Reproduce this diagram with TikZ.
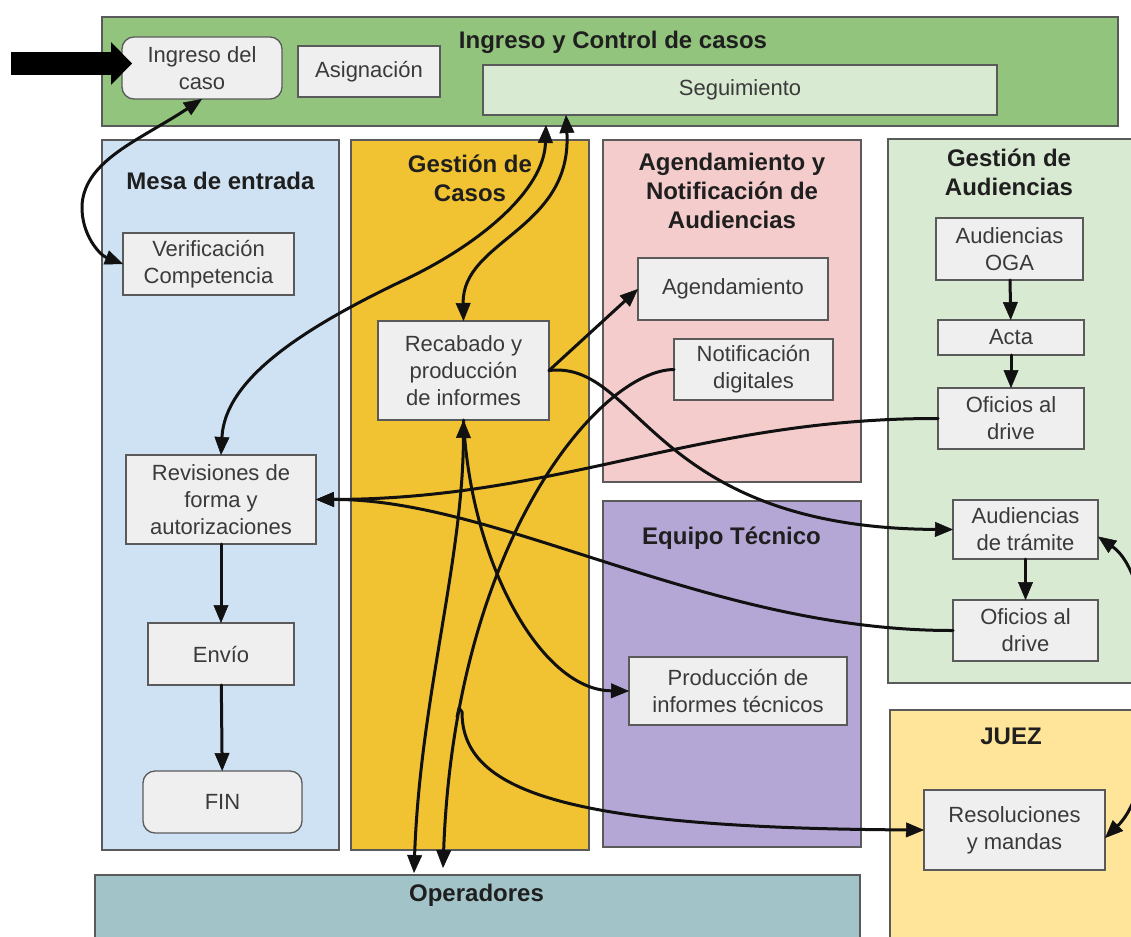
\documentclass[tikz,border=0pt]{standalone}
\usepackage{fontspec}
\setmainfont{Liberation Sans}
\usetikzlibrary{arrows.meta}

\definecolor{bandgreen}{HTML}{93C47D}
\definecolor{palegreen}{HTML}{D9EAD3}
\definecolor{paleblue}{HTML}{CFE2F3}
\definecolor{gold}{HTML}{F1C232}
\definecolor{rose}{HTML}{F4CCCC}
\definecolor{lavender}{HTML}{B4A7D6}
\definecolor{cream}{HTML}{FFE599}
\definecolor{slateteal}{HTML}{A2C4C9}
\definecolor{boxgray}{HTML}{EFEFEF}
\definecolor{edgegray}{HTML}{5A5A5A}
\definecolor{inkgray}{HTML}{3A3A3A}
\definecolor{ink}{HTML}{111111}

\tikzset{
  lane/.style={draw=edgegray, line width=1.4pt, inner sep=0pt, outer sep=0pt, anchor=north west},
  ttl/.style={font=\bfseries\fontsize{24}{29}\selectfont, text=black!88, align=center, inner sep=0pt},
  box/.style={draw=edgegray, line width=1.3pt, fill=boxgray, inner sep=2pt, outer sep=0pt,
              align=center, text=inkgray, font=\fontsize{22}{27}\selectfont},
  roundbox/.style={box, rounded corners=12pt},
  conn/.style={draw=ink, line width=3pt, line cap=round},
  arr/.style={conn, -{Triangle[length=18pt,width=15pt,line width=0.5pt]}},
  biarr/.style={conn, {Triangle[length=18pt,width=15pt,line width=0.5pt]}-{Triangle[length=18pt,width=15pt,line width=0.5pt]}},
}

\begin{document}
\begin{tikzpicture}[x=1pt,y=-1pt]
\useasboundingbox (0,0) rectangle (1131,936);
\clip (0,0) rectangle (1131,936);
\fill[white] (0,0) rectangle (1131,936);

% ---------- swimlanes ----------
\node[lane, fill=bandgreen, minimum width=1016pt, minimum height=109pt] (laneIngreso) at (102,17) {};
\node[lane, fill=paleblue,  minimum width=237pt,  minimum height=710pt] (laneMesa) at (102,140) {};
\node[lane, fill=gold,      minimum width=238pt,  minimum height=710pt] (laneCasos) at (351,140) {};
\node[lane, fill=rose,      minimum width=258pt,  minimum height=342pt] (laneAgenda) at (603,140) {};
\node[lane, fill=lavender,  minimum width=258pt,  minimum height=346pt] (laneTecnico) at (603,501) {};
\node[lane, fill=palegreen, minimum width=260pt,  minimum height=544pt] (laneAudiencias) at (888,139) {};
\node[lane, fill=cream,     minimum width=260pt,  minimum height=250pt] (laneJuez) at (890,710) {};
\node[lane, fill=slateteal, minimum width=765pt,  minimum height=90pt]  (laneOper) at (95,875) {};

% ---------- lane titles ----------
\node[ttl] (tIngreso) at (613,42) {Ingreso y Control de casos};
\node[ttl] (tMesa) at (220.5,181) {Mesa de entrada};
\node[ttl] (tCasos) at (470,178.5) {Gestión de\\Casos};
\node[ttl] (tAgenda) at (732,190.5) {Agendamiento y\\Notificación de\\Audiencias};
\node[ttl] (tTecnico) at (731.5,538) {Equipo Técnico};
\node[ttl] (tAudiencias) at (1009,172) {Gestión de\\Audiencias};
\node[ttl] (tJuez) at (1011,736) {JUEZ};
\node[ttl] (tOper) at (476.5,895) {Operadores};

% ---------- process boxes ----------
\node[roundbox, minimum width=160pt, minimum height=62pt] (ingreso) at (202,68) {Ingreso del\\caso};
\node[box, minimum width=142pt, minimum height=51pt] (asign) at (369,71.5) {Asignación};
\node[box, fill=palegreen, minimum width=514pt, minimum height=50pt] (seguim) at (740,90) {Seguimiento};

\node[box, minimum width=171pt, minimum height=62pt] (verif) at (208.5,264) {Verificación\\Competencia};
\node[box, minimum width=190pt, minimum height=89pt] (revis) at (221,499.5) {Revisiones de\\forma y\\autorizaciones};
\node[box, minimum width=146pt, minimum height=62pt] (envio) at (221,654) {Envío};
\node[roundbox, minimum width=159pt, minimum height=62pt] (fin) at (222.5,802) {FIN};

\node[box, minimum width=171pt, minimum height=99pt] (recab) at (463.5,370.5) {Recabado y\\producción\\de informes};

\node[box, minimum width=190pt, minimum height=62pt] (agend) at (733,289) {Agendamiento};
\node[box, minimum width=159pt, minimum height=61pt] (notif) at (753.5,369.5) {Notificación\\digitales};

\node[box, minimum width=218pt, minimum height=68pt] (produc) at (738,691) {Producción de\\informes técnicos};

\node[box, minimum width=147pt, minimum height=62pt] (oga) at (1009.5,249) {Audiencias\\OGA};
\node[box, minimum width=146pt, minimum height=35pt] (acta) at (1011,337.5) {Acta};
\node[box, minimum width=146pt, minimum height=61pt] (ofic1) at (1011,418.5) {Oficios al\\drive};
\node[box, minimum width=145pt, minimum height=59pt] (tramite) at (1025.5,529.5) {Audiencias\\de trámite};
\node[box, minimum width=145pt, minimum height=61pt] (ofic2) at (1025.5,630.5) {Oficios al\\drive};

\node[box, minimum width=181pt, minimum height=80pt] (resol) at (1014.5,830) {Resoluciones\\y mandas};

% ---------- entry arrow ----------
\coordinate (entrada) at (11,63.5);
\draw[draw=black, line width=23pt, -{Triangle[length=21pt,width=43pt,line width=0pt]}]
  (entrada) -- ([xshift=10pt,yshift=4.5pt]ingreso.west);

% ---------- straight flows ----------
\draw[arr] (oga) -- (acta);
\draw[arr] (acta) -- (ofic1);
\draw[arr] (tramite) -- (ofic2);
\draw[arr] (revis) -- (envio);
\draw[arr] (envio) -- (fin);
\draw[arr] (recab.east) -- (agend.west);

% ---------- curved flows ----------
% ingreso <-> verificacion
\draw[biarr] (ingreso.south) .. controls (140,140) and (85,160) .. (82,205)
  .. controls (81,235) and (100,255) .. (verif.west);
% seguimiento <-> revisiones
\draw[biarr] ([xshift=-194pt,yshift=-10pt]seguim.south)
  .. controls (544,190) and (480,245) .. (400,282)
  .. controls (300,330) and (225,380) .. (revis.north);
% seguimiento <-> recabado
\draw[biarr] ([xshift=-174pt]seguim.south) .. controls (572,230) and (462,240) .. (recab.north);
% recabado -> audiencias de tramite
\draw[arr] (recab.east) .. controls (640,360) and (650,528) .. (tramite.west);
% notificacion -> operadores
\draw[arr] (notif.west) .. controls (600,370) and (455,540) .. ([xshift=-34.5pt,yshift=7pt]laneOper.north);
% oficios -> revisiones
\draw[arr] (ofic1.west) .. controls (700,418) and (560,499) .. (revis.east);
\draw[arr] (ofic2.west) .. controls (710,631) and (500,499) .. (revis.east);
% recabado <-> operadores
\draw[biarr] (recab.south) .. controls (463,560) and (420,700) .. ([xshift=-63.5pt,yshift=2pt]laneOper.north);
% recabado -> produccion de informes tecnicos
\draw[arr] (recab.south) .. controls (470,560) and (540,690) .. (produc.west);
% branch towards resoluciones
\coordinate (ramal) at (457,717);
\draw[arr, line join=round] (ramal) -- ++(2,-9) -- ++(3,4)
  .. controls (462,790) and (560,828) .. (resol.west);
% audiencias de tramite <-> resoluciones
\draw[biarr] ([yshift=-7pt]tramite.east) .. controls (1160,580) and (1165,780) .. ([yshift=-8pt]resol.east);
\end{tikzpicture}
\end{document}
